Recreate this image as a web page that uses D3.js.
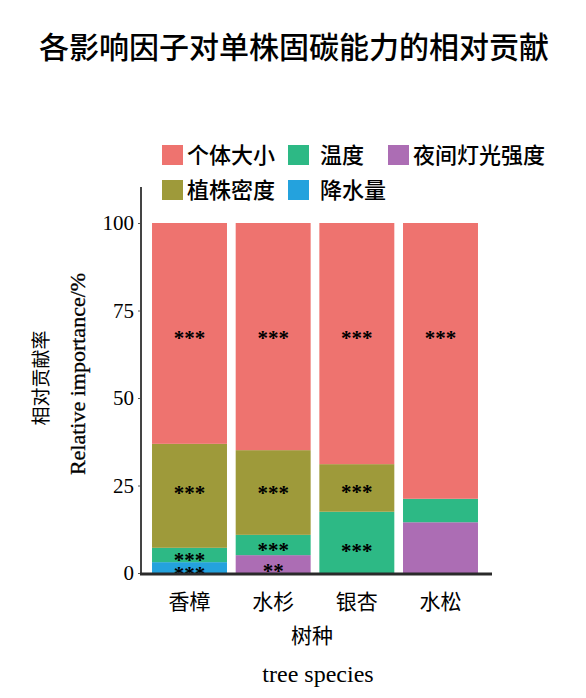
<!DOCTYPE html>
<html><head><meta charset="utf-8">
<script src="https://cdn.jsdelivr.net/npm/d3@7"></script>
<style>body{margin:0;background:#fff}svg{display:block}</style>
</head><body>
<script>
const title = "各影响因子对单株固碳能力的相对贡献";
const species = ["香樟", "水杉", "银杏", "水松"];
// stack order bottom -> top
const factors = ["降水量", "夜间灯光强度", "温度", "植株密度", "个体大小"];
const precipitation = [3.1, 0, 0, 0];
const nightLight   = [0, 5.1, 0, 14.5];
const temperature  = [4.1, 5.8, 17.5, 6.7];
const density      = [29.7, 24.2, 13.6, 0];
const size         = [63.1, 64.9, 68.9, 78.8];
const yTicks = [0, 25, 50, 75, 100];
// significance marks: species, text, y value
const sigSpecies = ["香樟","香樟","香樟","香樟","水杉","水杉","水杉","水杉","银杏","银杏","银杏","水松"];
const sigText    = ["***","***","***","***","***","***","***","**","***","***","***","***"];
const sigValue   = [68.6, 24.4, 5.1, 1.2, 68.6, 24.3, 8.0, 2.1, 68.6, 24.6, 7.8, 68.6];
const legendOrder = ["个体大小", "温度", "夜间灯光强度", "植株密度", "降水量"];

const colors = {"个体大小":"#EE736F","温度":"#2DB985","夜间灯光强度":"#AC6DB4","植株密度":"#9E9A3A","降水量":"#24A2DD"};
const seriesVals = {"降水量":precipitation,"夜间灯光强度":nightLight,"温度":temperature,"植株密度":density,"个体大小":size};

const W = 586, H = 698;
const svg = d3.select("body").append("svg").attr("width", W).attr("height", H);

svg.append("text").attr("x", 294).attr("y", 58).attr("text-anchor","middle")
  .attr("font-family","'Noto Sans CJK SC'").attr("font-weight",500).attr("font-size",30).attr("fill","#000").text(title);

const x = d3.scaleBand().domain(species).range([147, 483]).paddingInner(0.104).paddingOuter(0.06);
const y = d3.scaleLinear().domain([0,100]).range([573, 223]);

const rows = species.map((s,i) => { const r = {species:s}; factors.forEach(f => r[f] = seriesVals[f][i]); return r; });
const stacked = d3.stack().keys(factors)(rows);

svg.append("g").selectAll("g").data(stacked).join("g").attr("fill", d => colors[d.key])
  .selectAll("rect").data(d => d).join("rect")
  .attr("x", d => x(d.data.species)).attr("width", x.bandwidth())
  .attr("y", d => y(d[1])).attr("height", d => Math.max(0, y(d[0]) - y(d[1])));

// significance
svg.append("g").selectAll("text").data(sigText).join("text")
  .attr("x", (d,i) => x(sigSpecies[i]) + x.bandwidth()/2)
  .attr("y", (d,i) => y(sigValue[i]) + 12)
  .attr("text-anchor","middle").attr("font-family","'Liberation Serif'").attr("font-weight","bold")
  .attr("font-size",21).attr("fill","#000").text(d => d);

// axes
const yAxis = d3.axisLeft(y).tickValues(yTicks).tickSize(3).tickPadding(4);
const gy = svg.append("g").attr("transform","translate(141,0)").call(yAxis);
gy.select(".domain").remove();
gy.selectAll(".tick line").attr("stroke","#555").attr("stroke-width",1);
gy.selectAll(".tick text").attr("font-family","'Liberation Serif'").attr("font-size",21).attr("fill","#000");
svg.append("line").attr("x1",141).attr("x2",141).attr("y1",187).attr("y2",575).attr("stroke","#444").attr("stroke-width",2);

const xAxis = d3.axisBottom(x).tickSize(0).tickPadding(20);
const gx = svg.append("g").attr("transform","translate(0,574)").call(xAxis);
gx.select(".domain").remove();
gx.selectAll(".tick text").attr("font-family","'Noto Sans CJK SC'").attr("font-size",21).attr("fill","#000");
svg.append("line").attr("x1",140).attr("x2",492).attr("y1",574).attr("y2",574).attr("stroke","#2a2a2a").attr("stroke-width",3);

// axis titles
svg.append("text").attr("transform","translate(312,643)").attr("text-anchor","middle")
  .attr("font-family","'Noto Sans CJK SC'").attr("font-size",21).text("树种");
svg.append("text").attr("transform","translate(318,682)").attr("text-anchor","middle")
  .attr("font-family","'Liberation Serif'").attr("font-size",24).text("tree species");
svg.append("text").attr("transform","translate(48,378) rotate(-90)").attr("text-anchor","middle")
  .attr("font-family","'Noto Sans CJK SC'").attr("font-size",19).text("相对贡献率");
svg.append("text").attr("transform","translate(85,374) rotate(-90)").attr("text-anchor","middle")
  .attr("font-family","'Liberation Serif'").attr("font-size",22).attr("stroke","#000").attr("stroke-width",0.3).text("Relative importance/%");

// legend
const legendX = [162, 288, 388, 162, 288];
const legendY = [145, 145, 145, 180, 180];
const lg = svg.append("g").selectAll("g").data(legendOrder).join("g")
  .attr("transform", (d,i) => `translate(${legendX[i]},${legendY[i]})`);
lg.append("rect").attr("width",21).attr("height",20).attr("fill", d => colors[d]);
lg.append("text").attr("x", (d,i) => (i===1||i===4) ? 32 : 25).attr("y", 18)
  .attr("font-family","'Noto Sans CJK SC'").attr("font-weight",500).attr("font-size",22).attr("fill","#000").text(d => d);
</script>
</body></html>
